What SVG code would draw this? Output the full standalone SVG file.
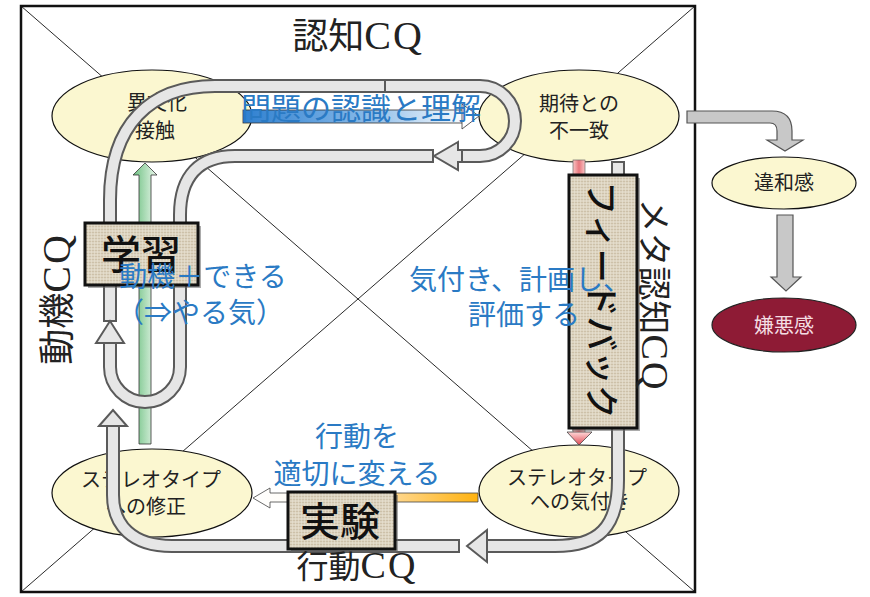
<svg xmlns="http://www.w3.org/2000/svg" width="870" height="597" viewBox="0 0 870 597">
<style>
.jp{font-family:"Noto Sans CJK JP","Noto Sans",sans-serif}
.cq{font-family:"Liberation Serif",serif}
.ell{fill:#FBF7D0;stroke:#111;stroke-width:1.2}
.et{font-family:"Noto Sans CJK JP",sans-serif;font-size:20px;fill:#222;text-anchor:middle}
.blue{font-family:"Noto Sans CJK JP",sans-serif;font-size:28px;fill:#2A7AC4;text-anchor:middle}
.big{font-family:"Noto Sans CJK JP",sans-serif;font-size:36px;fill:#222}
.to{fill:none;stroke:#5A5A5A;stroke-width:14}
.ti{fill:none;stroke:#E6E6E6;stroke-width:10}
.th{fill:#E6E6E6;stroke:#5A5A5A;stroke-width:2;stroke-linejoin:miter}
.box{fill:url(#tex);stroke:#111;stroke-width:3}
.shd{fill:#666;opacity:0.55}
.bt{font-family:"Noto Sans CJK JP",sans-serif;font-size:40px;fill:#111;font-weight:500;text-anchor:middle}
.gar{fill:#C8C8C8;stroke:#555;stroke-width:1.2}
</style>
<defs>
<pattern id="tex" width="6" height="6" patternUnits="userSpaceOnUse">
<rect width="6" height="6" fill="#DDD4C1"/>
<path d="M0,1.5h6M0,4.5h6" stroke="#C9BDA3" stroke-width="0.8"/>
<path d="M1.5,0v6M4.5,0v6" stroke="#E9E2D3" stroke-width="0.6"/>
</pattern>
<linearGradient id="green" x1="0" y1="0" x2="1" y2="0">
<stop offset="0" stop-color="#6CC080"/><stop offset="1" stop-color="#EAF7EC"/>
</linearGradient>
<linearGradient id="pink" x1="0" y1="0" x2="1" y2="0">
<stop offset="0" stop-color="#F9C4C4"/><stop offset="0.5" stop-color="#E8767D"/><stop offset="1" stop-color="#F9C4C4"/>
</linearGradient>
<linearGradient id="pinkh" x1="0" y1="0" x2="0" y2="1">
<stop offset="0" stop-color="#FFD8D8"/><stop offset="1" stop-color="#E04A55"/>
</linearGradient>
<linearGradient id="orange" gradientUnits="userSpaceOnUse" x1="253" y1="0" x2="478" y2="0">
<stop offset="0" stop-color="#FFFFFF"/><stop offset="0.55" stop-color="#FFF6E4"/><stop offset="0.62" stop-color="#FFD890"/><stop offset="1" stop-color="#FFB20F"/>
</linearGradient>
<linearGradient id="bluebar" gradientUnits="userSpaceOnUse" x1="243" y1="0" x2="470" y2="0">
<stop offset="0" stop-color="#2F80D0"/><stop offset="0.5" stop-color="#7FB4E6"/><stop offset="1" stop-color="#FFFFFF"/>
</linearGradient>
</defs>

<rect x="0" y="0" width="870" height="597" fill="#FFFFFF"/>
<g id="frame">
<rect x="21" y="6" width="674" height="586" fill="#FFFFFF" stroke="#111" stroke-width="2.5"/>
<line x1="21" y1="6" x2="695" y2="592" stroke="#111" stroke-width="0.9"/>
<line x1="695" y1="6" x2="21" y2="592" stroke="#111" stroke-width="0.9"/>
</g>

<g id="node-ibunka">
<ellipse class="ell" cx="152" cy="116" rx="100" ry="46"/>
<text class="et" x="157" y="110" font-size="21">異文化</text>
<text class="et" x="155" y="138" font-size="21">接触</text>
</g>
<g id="node-kitai">
<ellipse class="ell" cx="579" cy="116" rx="100" ry="46"/>
<text class="et" x="579" y="111" font-size="21">期待との</text>
<text class="et" x="579" y="138" font-size="21">不一致</text>
</g>
<g id="node-shusei">
<ellipse class="ell" cx="152" cy="493" rx="100" ry="44"/>
<text class="et" x="151" y="487">ステレオタイプ</text>
<text class="et" x="146" y="514">への修正</text>
</g>
<g id="node-kizuki">
<ellipse class="ell" cx="579" cy="491" rx="100" ry="46"/>
<text class="et" x="577" y="485">ステレオタイプ</text>
<text class="et" x="580" y="509">への気付き</text>
</g>
<g id="node-iwakan">
<ellipse class="ell" cx="784" cy="183" rx="72" ry="26"/>
<text class="et" x="784" y="190" font-size="21">違和感</text>
</g>
<g id="node-keno">
<ellipse cx="784" cy="325" rx="72" ry="27" fill="#8E1B35" stroke="#222" stroke-width="1.2"/>
<text class="et" x="784" y="333" font-size="21" fill="#F4DDE2" style="fill:#F4DDE2">嫌悪感</text>
</g>

<g id="connectors">
<!-- blue gradient arrow behind 問題の認識と理解 -->
<rect x="243" y="110" width="220" height="13" fill="url(#bluebar)" stroke="#333" stroke-width="0.8"/>
<polygon points="462,104 479,116 462,129" fill="#FFFFFF" stroke="#333" stroke-width="0.8"/>
<!-- green arrow -->
<polygon points="139,444 139,175 133,175 145,163 157,175 151,175 151,444" fill="url(#green)" stroke="#333" stroke-width="0.8"/>
<!-- pink arrow -->
<rect x="573" y="160" width="12" height="275" fill="url(#pink)" stroke="#555" stroke-width="0.6"/>
<polygon points="567,432 592,432 579,445" fill="url(#pinkh)" stroke="#444" stroke-width="0.8"/>
<!-- orange/white arrow from 気付き to 修正 -->
<polygon points="253,498 270,488 270,493 478,493 478,502 270,502 270,508" fill="url(#orange)" stroke="#444" stroke-width="0.8"/>

<!-- tube A -->
<path class="to" d="M110,322 L110,200 C110,125 150,86 215,86 L480,86 A35,35 0 0 1 480,156 L458,156"/>
<path class="ti" d="M110,320 L110,200 C110,125 150,86 215,86 L480,86 A35,35 0 0 1 480,156 L458,156"/>
<line x1="385" y1="79" x2="385" y2="93" stroke="#5A5A5A" stroke-width="2"/>
<polygon class="th" points="458,142 434,156 458,170 458,162 462,162 462,150 458,150"/>
<!-- tube B -->
<path class="to" d="M434,156 L235,156 C200,156 180,175 180,215 L180,367 A35,35 0 0 1 110,367 L110,343"/>
<path class="ti" d="M432,156 L235,156 C200,156 180,175 180,215 L180,367 A35,35 0 0 1 110,367 L110,343"/>
<polygon class="th" points="96,343 110,321 124,343"/>
<!-- tube C -->
<path class="to" d="M618,161 L618,480 C618,528 598,546 555,546 L485,546"/>
<path class="ti" d="M618,163 L618,480 C618,528 598,546 555,546 L485,546"/>
<polygon class="th" points="487,530 467,546 487,562"/>
<!-- tube D -->
<path class="to" d="M460,546 L172,546 C132,546 113,525 113,495 L113,425"/>
<path class="ti" d="M458,546 L172,546 C132,546 113,525 113,495 L113,425"/>
<polygon class="th" points="99,426 113,410 127,426"/>

<!-- right side gray arrows -->
<path class="gar" d="M687,111 L772,111 Q792,111 792,131 L792,140 L803,140 L785,151 L767,140 L777,140 L777,131 Q777,123 770,123 L687,123 Z"/>
<path class="gar" d="M777,215 L793,215 L793,277 L801,277 L786,291 L771,277 L777,277 Z"/>
</g>

<g id="node-gakushu">
<rect class="shd" x="88" y="226" width="113" height="62"/>
<rect class="box" x="85" y="223" width="113" height="62"/>
<text class="bt" x="141" y="269">学習</text>
</g>
<g id="node-feedback">
<rect class="shd" x="572" y="178" width="68" height="253"/>
<rect class="box" x="569" y="175" width="68" height="253"/>
<text class="bt" font-size="34" style="font-size:34px" transform="translate(601,300) rotate(90)" x="0" y="12">フィードバック</text>
</g>
<g id="node-jikken">
<rect class="shd" x="291" y="495" width="107" height="57"/>
<rect class="box" x="288" y="492" width="107" height="57"/>
<text class="bt" x="340" y="536">実験</text>
</g>

<g id="labels">
<text class="blue" x="361" y="119" font-size="30" style="font-size:30px">問題の認識と理解</text>
<text class="blue" x="203" y="287">動機＋できる</text>
<text class="blue" x="200" y="323">（⇒やる気）</text>
<text class="blue" x="520" y="290">気付き、計画し、</text>
<text class="blue" x="524" y="325">評価する</text>
<text class="blue" x="357" y="447">行動を</text>
<text class="blue" x="357" y="484">適切に変える</text>

<text class="big" x="358" y="49" text-anchor="middle">認知<tspan class="cq" font-size="40" letter-spacing="2">CQ</tspan></text>
<text class="big" transform="translate(57,299) rotate(-90)" x="0" y="13" text-anchor="middle">動機<tspan class="cq" font-size="40" letter-spacing="2">CQ</tspan></text>
<text class="big" font-size="34" style="font-size:34px" transform="translate(654,295) rotate(90)" x="0" y="12" text-anchor="middle">メタ認知<tspan class="cq" font-size="38" letter-spacing="2">CQ</tspan></text>
<text class="big" font-size="32" style="font-size:32px" x="357" y="578" text-anchor="middle">行動<tspan class="cq" font-size="38" letter-spacing="2">CQ</tspan></text>
</g>
</svg>
